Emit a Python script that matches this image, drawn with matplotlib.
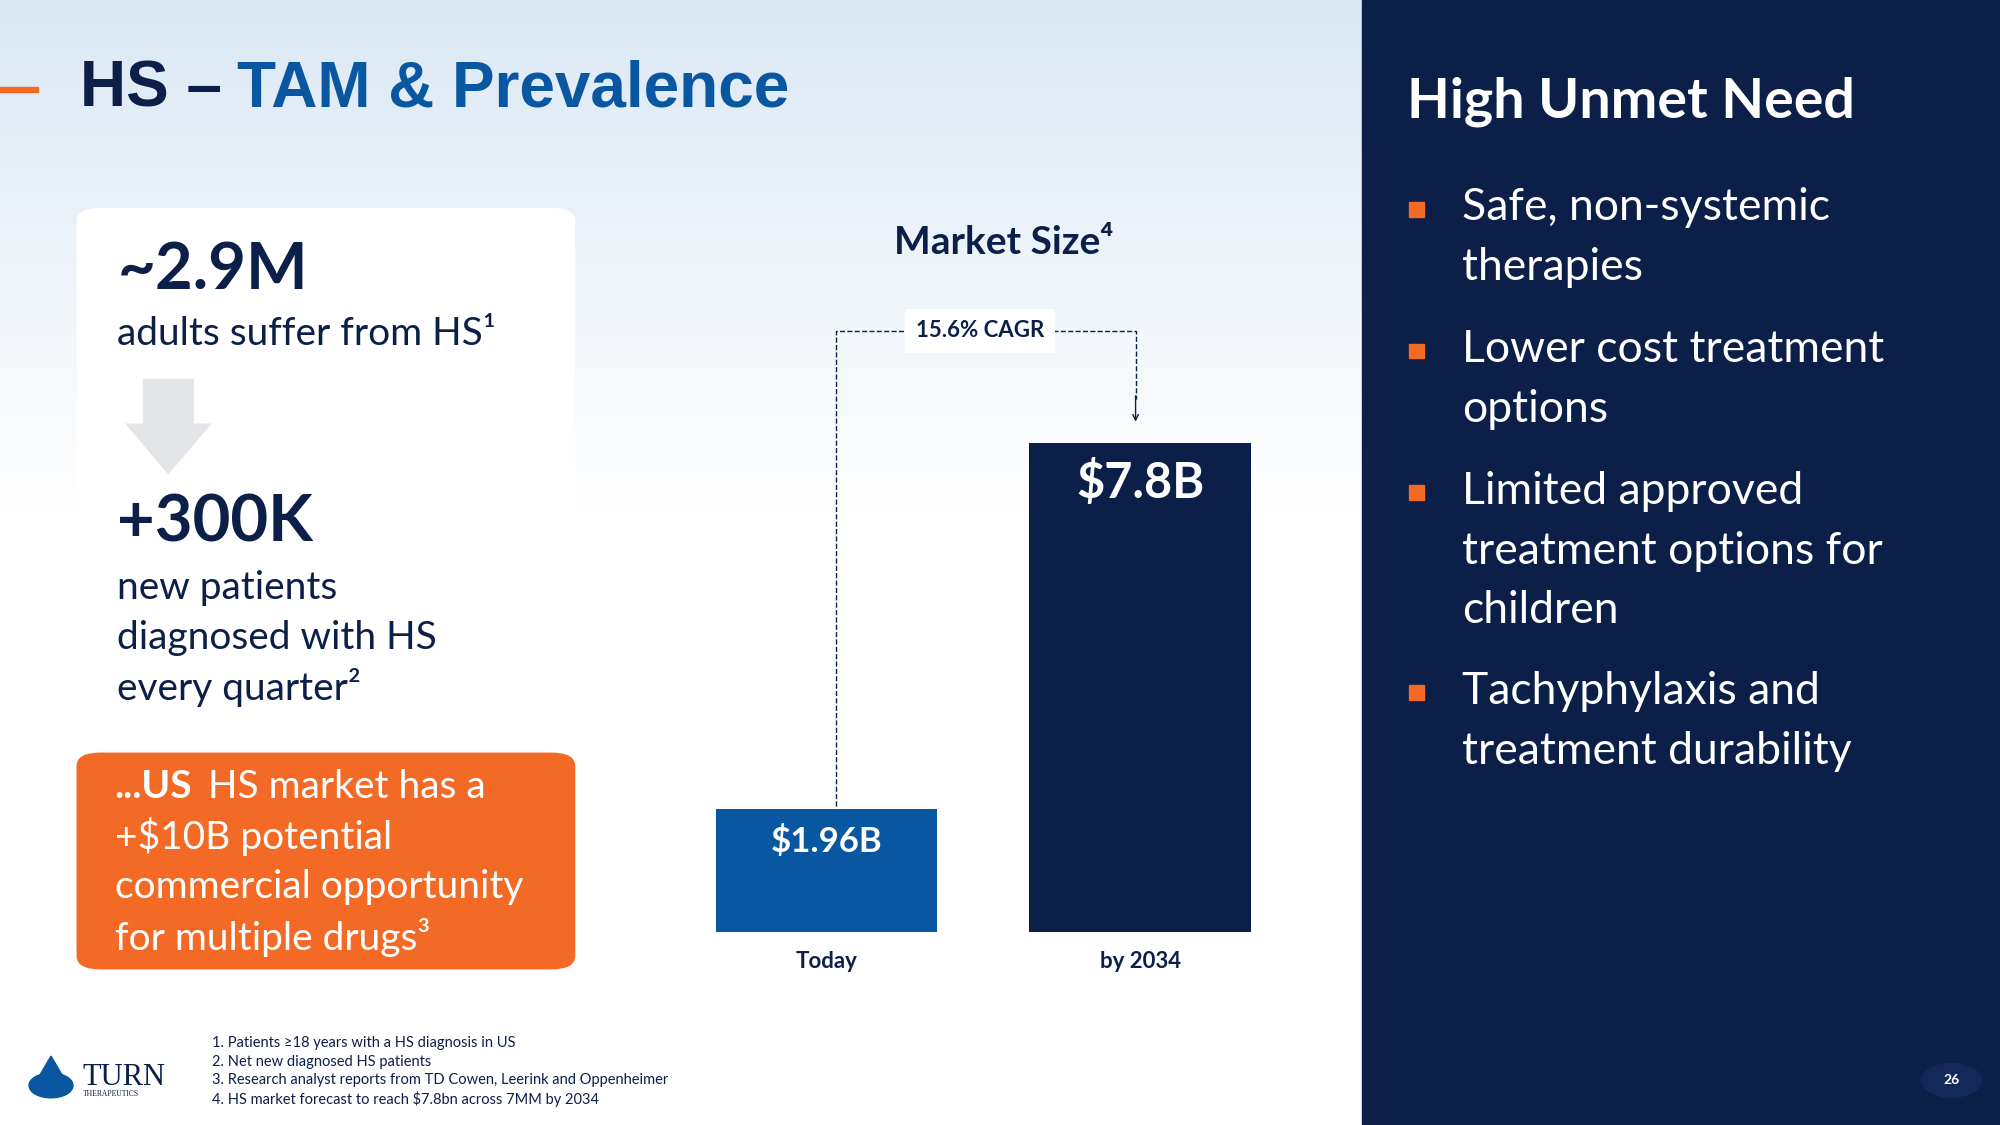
import matplotlib.pyplot as plt
import numpy as np
from matplotlib.patches import FancyBboxPatch, Rectangle, Polygon, Circle

categories = ['Today', 'by 2034']
market_size = [1.96, 7.8]
bar_labels = ['$1.96B', '$7.8B']
cagr_label = '15.6% CAGR'
bullets = ['Safe, non-systemic\ntherapies', 'Lower cost treatment\noptions',
           'Limited approved\ntreatment options for\nchildren',
           'Tachyphylaxis and\ntreatment durability']
footnotes = ['1. Patients \u226518 years with a HS diagnosis in US',
             '2. Net new diagnosed HS patients',
             '3. Research analyst reports from TD Cowen, Leerink and Oppenheimer',
             '4. HS market forecast to reach $7.8bn across 7MM by 2034']

NAVY = '#0b1f48'
BLUE = '#0857a0'
ORANGE = '#f26a25'
FONT = ['Lato', 'DejaVu Sans']
TFONT = ['Liberation Sans', 'DejaVu Sans']


def fx(px):
    return px / 1568


def fy(py):
    return 1 - py / 882


def lines(x, y0, step, texts, **kw):
    for i, t in enumerate(texts):
        fig.text(fx(x), fy(y0 + i * step), t, va='center', family=FONT, **kw)


fig = plt.figure(figsize=(20, 11.25), dpi=100)

bg = fig.add_axes([0, 0, 1, 1])
bg.axis('off')
grad = np.linspace(0, 1, 256).reshape(-1, 1)
top = np.array([0.86, 0.91, 0.96])
col = top + (1 - top) * np.clip(grad * 2.2, 0, 1)
bg.imshow(col.reshape(256, 1, 3), extent=[0, 1, 0, 1], aspect='auto')
bg.set_xlim(0, 1)
bg.set_ylim(0, 1)
bg.add_patch(Rectangle((fx(1068), 0), 1, 1, color=NAVY, transform=fig.transFigure))

# title
bg.add_patch(Rectangle((0, fy(70) - 0.002), fx(30), 0.004, color=ORANGE, transform=fig.transFigure))
fig.text(fx(63), fy(70), 'HS \u2013 ', fontsize=46, fontweight='bold', color=NAVY,
         family=TFONT, va='center')
fig.text(fx(186), fy(70), 'TAM & Prevalence', fontsize=46, fontweight='bold', color=BLUE,
         family=TFONT, va='center')

# white card
bg.add_patch(FancyBboxPatch((fx(60), fy(562)), fx(391), fy(163) - fy(562),
                            boxstyle='round,pad=0,rounding_size=0.012', fc='white', ec='none',
                            transform=fig.transFigure))
fig.text(fx(92), fy(212), '~2.9M', fontsize=47, fontweight='bold', color=NAVY, family=FONT, va='center')
lines(92, 262, 0, ['adults suffer from HS\u00b9'], fontsize=28, color=NAVY)
bg.add_patch(Polygon([(fx(112), fy(297)), (fx(152), fy(297)), (fx(152), fy(332)),
                      (fx(166), fy(332)), (fx(132), fy(372)), (fx(98), fy(332)),
                      (fx(112), fy(332))], closed=True, fc='#e3e5e8', ec='none',
                     transform=fig.transFigure))
fig.text(fx(92), fy(410), '+300K', fontsize=47, fontweight='bold', color=NAVY, family=FONT, va='center')
lines(92, 461, 39, ['new patients', 'diagnosed with HS', 'every quarter\u00b2'],
      fontsize=28, color=NAVY)

# orange box
bg.add_patch(FancyBboxPatch((fx(60), fy(760)), fx(391), fy(590) - fy(760),
                            boxstyle='round,pad=0,rounding_size=0.012', fc=ORANGE, ec='none',
                            transform=fig.transFigure))
fig.text(fx(90), fy(617), '...US', fontsize=28, fontweight='bold', color='white', family=FONT, va='center')
fig.text(fx(163), fy(617), 'HS market has a', fontsize=28, color='white', family=FONT, va='center')
lines(90, 656, 39.5, ['+$10B potential', 'commercial opportunity', 'for multiple drugs\u00b3'],
      fontsize=28, color='white')

# chart
ax = fig.add_axes([fx(540), fy(731), fx(1000) - fx(540), fy(200) - fy(731)])
ax.patch.set_alpha(0)
ax.bar([0, 1], market_size, width=0.707, color=[BLUE, NAVY])
ax.set_xlim(-0.439, 1.431)
ax.set_ylim(0, 10.8)
ax.axis('off')
for i, (v, lab) in enumerate(zip(market_size, bar_labels)):
    ax.text(i, v - 0.25, lab, ha='center', va='top', color='white', fontweight='bold',
            fontsize=25 if i == 0 else 35, family=FONT)
    ax.text(i, -0.3, categories[i], ha='center', va='top', color=NAVY, fontweight='bold',
            fontsize=16, family=FONT)
x0, x1 = 0.03, 0.985
ytop = 9.59
ax.plot([x0, x0, x1, x1], [market_size[0] + 0.05, ytop, ytop, 8.5], ls='--', lw=1, color=NAVY)
ax.annotate('', xy=(x1, 8.1), xytext=(x1, 8.6),
            arrowprops=dict(arrowstyle='->', color=NAVY, lw=1))
ax.text(0.49, ytop, cagr_label, ha='center', va='center', color=NAVY, fontweight='bold',
        fontsize=16, family=FONT, bbox=dict(fc='white', ec='none', pad=8))
fig.text(fx(787), fy(190), 'Market Size\u2074', ha='center', va='center', color=NAVY,
         fontweight='bold', fontsize=28, family=FONT)

# right panel
fig.text(fx(1103), fy(80), 'High Unmet Need', color='white', fontweight='bold', fontsize=40,
         family=FONT, va='center')
ys = [163, 274, 385, 542]
for y, b in zip(ys, bullets):
    bg.add_patch(Rectangle((fx(1105), fy(y) - 0.008), 0.0075, 0.0133, color=ORANGE,
                           transform=fig.transFigure))
    lines(1146, y, 47, b.split('\n'), fontsize=32, color='white')

# footnotes
for i, f in enumerate(footnotes):
    fig.text(fx(166), fy(818 + i * 14.5), f, fontsize=10.5, color=NAVY, family=FONT, va='center')

# logo
bg.add_patch(Circle((fx(40), fy(851)), 0.011, color=BLUE, transform=fig.transFigure))
bg.add_patch(Polygon([(fx(30), fy(845)), (fx(40), fy(828)), (fx(50), fy(845))],
                     color=BLUE, transform=fig.transFigure))
fig.text(fx(65), fy(845), 'TURN', fontsize=22, color=NAVY, family='Liberation Serif', va='center')
fig.text(fx(65), fy(858), 'THERAPEUTICS', fontsize=5.5, color=NAVY, family='Liberation Serif', va='center')

# page number
bg.add_patch(Circle((fx(1530), fy(847)), 0.015, color='#13295a', transform=fig.transFigure))
fig.text(fx(1530), fy(847), '26', fontsize=10, color='white', fontweight='bold',
         ha='center', va='center', family=FONT)

fig.savefig('out.png')
